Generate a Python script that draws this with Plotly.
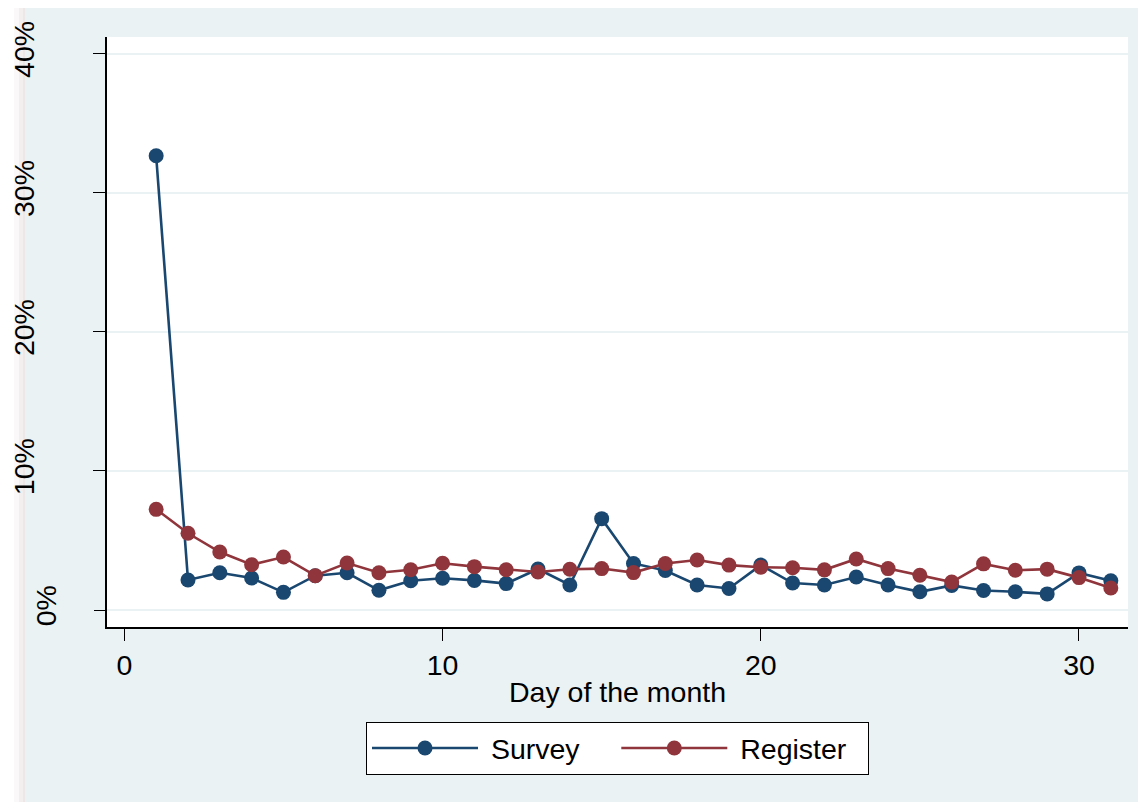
import plotly.graph_objects as go

days = list(range(1, 32))
survey = [32.66, 2.16, 2.68, 2.30, 1.27, 2.47, 2.68, 1.42, 2.11, 2.28,
          2.13, 1.90, 2.95, 1.80, 6.57, 3.35, 2.84, 1.80, 1.55, 3.23,
          1.94, 1.80, 2.37, 1.80, 1.31, 1.77, 1.40, 1.31, 1.16, 2.67, 2.11]
register = [7.24, 5.52, 4.17, 3.26, 3.81, 2.47, 3.38, 2.68, 2.90, 3.36,
            3.12, 2.90, 2.73, 2.93, 2.98, 2.69, 3.35, 3.60, 3.23, 3.08,
            3.04, 2.89, 3.67, 2.98, 2.50, 2.01, 3.32, 2.86, 2.94, 2.33, 1.58]
series_names = ["Survey", "Register"]
y_ticks = [10, 20, 30, 40]
y_tick_text = ["10%", "20%", "30%", "40%"]
x_ticks = [0, 10, 20, 30]

BLUE = "#1A476F"
RED = "#90353B"
BG = "#EAF2F3"
FONT = "Liberation Sans, Arial, sans-serif"
FS = 28.5
NB = "\u00a0"

fig = go.Figure()
fig.add_trace(go.Scatter(x=[None], y=[None], yaxis="y2", showlegend=False, hoverinfo="skip"))
fig.add_trace(go.Scatter(x=days, y=survey, name=NB + series_names[0] + NB * 4, mode="lines+markers",
                         line=dict(color=BLUE, width=2.6),
                         marker=dict(color=BLUE, size=15)))
fig.add_trace(go.Scatter(x=days, y=register, name=NB + series_names[1] + NB * 2, mode="lines+markers",
                         line=dict(color=RED, width=2.6),
                         marker=dict(color=RED, size=15)))

# page body has an 8px margin; figure fills the rest of the 1146x802 window
OFF = 8
W, H = 1146 - OFF, 802 - OFF
L, R, T, B = 107 - OFF, 1146 - 1128, 37 - OFF, 802 - 627
pw, ph = W - L - R, H - T - B
def px(x):
    return (x - OFF - L) / pw
def py(y):
    return (H - B - (y - OFF)) / ph

shapes = []
for x0, x1, c in [(8, 14, "#FFFFFF"), (14, 19, "#FAF8F8"), (19, 23, "#F3EFEF"), (23, 25, "#EDE7E8")]:
    shapes.append(dict(type="rect", xref="paper", yref="paper", x0=px(x0), x1=px(x1), y0=py(810), y1=py(0),
                       fillcolor=c, line=dict(width=0), layer="below"))

fig.update_layout(
    width=W, height=H,
    margin=dict(l=L, r=R, t=T, b=B, autoexpand=False),
    paper_bgcolor=BG, plot_bgcolor="white",
    font=dict(family=FONT, size=FS, color="black"),
    showlegend=True,
    legend=dict(orientation="h", x=0.5, xanchor="center", y=py(722), yanchor="top",
                bgcolor="white", bordercolor="black", borderwidth=1,
                font=dict(size=FS), itemwidth=106, tracegroupgap=0),
    shapes=shapes,
    xaxis=dict(range=[-0.545, 31.54], tickvals=x_ticks, ticks="outside", ticklen=12,
               tickcolor="black", tickwidth=1, showline=True, linecolor="black", linewidth=1.5,
               showgrid=False, zeroline=False, tickfont=dict(size=FS), automargin=False,
               title=dict(text="Day of the month", font=dict(size=FS), standoff=2)),
    yaxis=dict(range=[-1.22, 41.2], tickvals=y_ticks, ticktext=y_tick_text, tickangle=-90,
               ticks="outside", ticklen=12, tickcolor="black", tickwidth=1,
               showline=True, linecolor="black", linewidth=1.5, automargin=False,
               showgrid=True, gridcolor=BG, gridwidth=2, zeroline=False,
               tickfont=dict(size=FS), ticklabelstandoff=48),
    yaxis2=dict(range=[-1.22, 41.2], overlaying="y", side="left", tickvals=[0], ticktext=["0%"],
                tickangle=-90, ticks="outside", ticklen=12, tickcolor="black", tickwidth=1,
                showline=False, showgrid=True, gridcolor=BG, gridwidth=2, zeroline=False,
                automargin=False, tickfont=dict(size=FS), ticklabelstandoff=27),
)

fig.write_html("out.html")
